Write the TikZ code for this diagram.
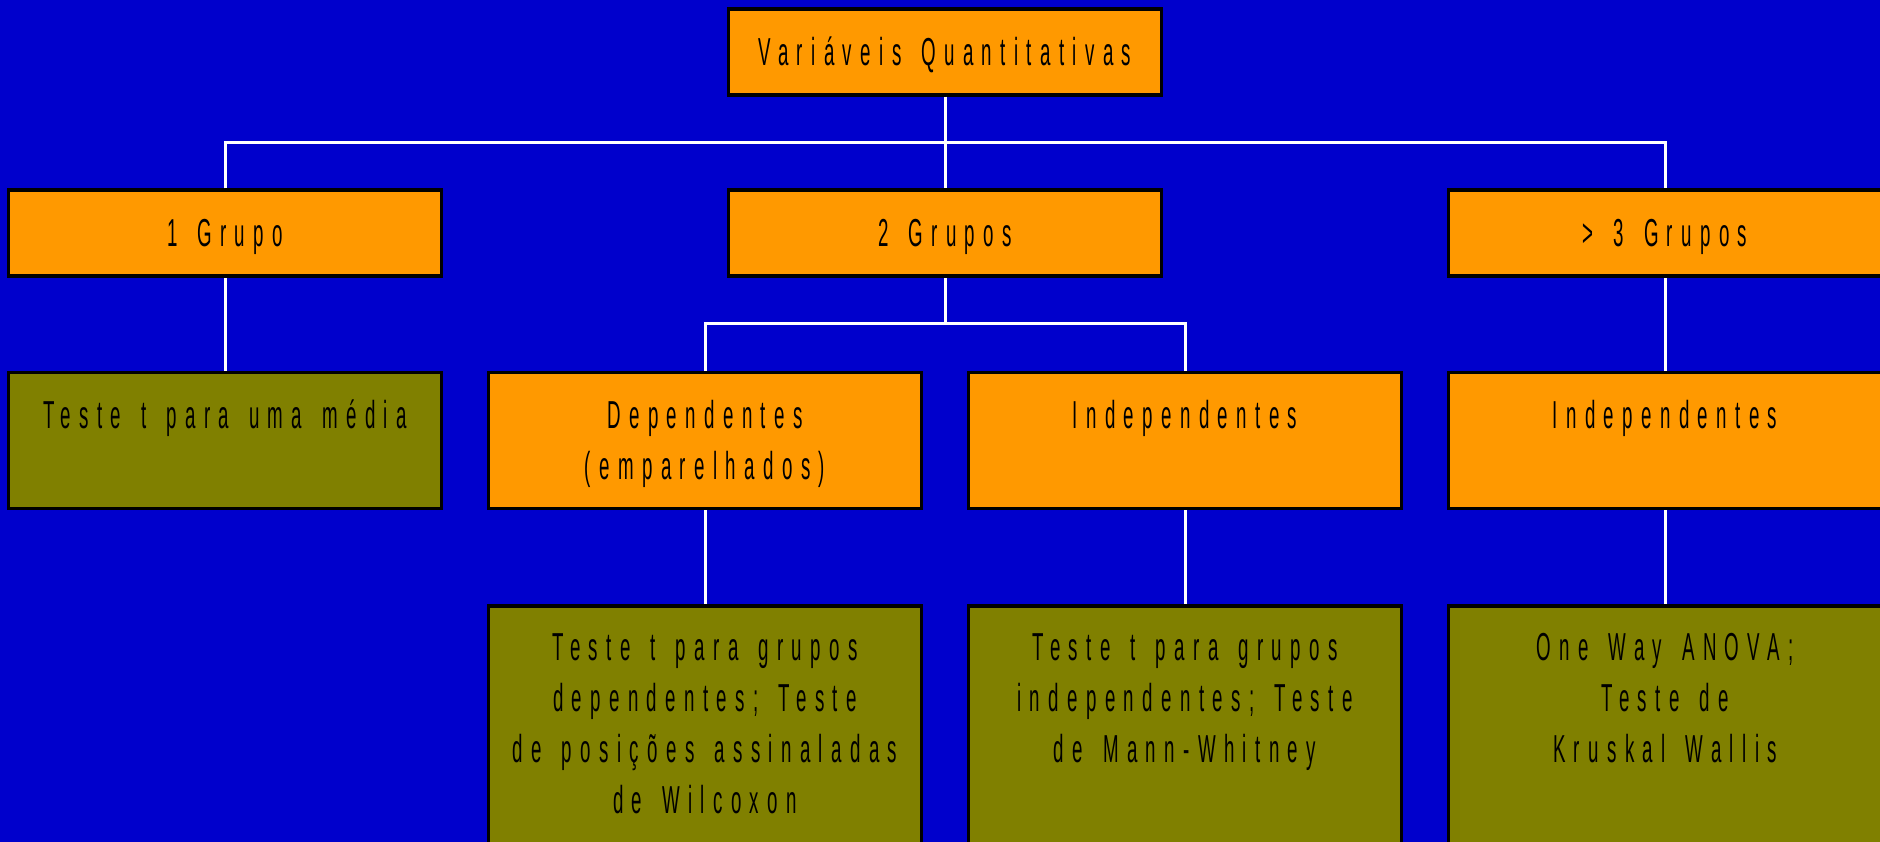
\documentclass[tikz,border=0pt]{standalone}
\usepackage{fontspec}
\setmainfont{Liberation Sans}[FakeStretch=0.48,LetterSpace=21.5]
\definecolor{bgblue}{RGB}{0,0,204}
\definecolor{boxorange}{RGB}{255,153,0}
\definecolor{boxolive}{RGB}{128,128,0}
\newcommand\wg{\hspace{7pt}}
\tikzset{
  box/.style={draw=black, line width=3.6pt, minimum width=433pt, inner sep=0pt},
  obox/.style={box, fill=boxorange, minimum height=86pt},
  otall/.style={box, fill=boxorange, minimum height=136pt},
  gtall/.style={box, fill=boxolive, minimum height=136pt},
  gbottom/.style={box, fill=boxolive, minimum height=300pt},
  lbl/.style={anchor=base, inner sep=0pt, text width=436pt, align=center,
    font=\fontsize{39}{51}\selectfont},
  conn/.style={draw=white, line width=3pt},
}
\begin{document}
\begin{tikzpicture}[x=1pt,y=-1pt]
\useasboundingbox (0,0) rectangle (1880,842);
\clip (0,0) rectangle (1880,842);
\fill[bgblue] (0,0) rectangle (1880,842);

% boxes
\node[obox] (T) at (945,51.8) {};
\node[obox] (G1) at (225,233.3) {};
\node[obox] (G2) at (945,233.3) {};
\node[obox] (G3) at (1665,233.3) {};
\node[gtall] (R1) at (225,440.5) {};
\node[otall] (D) at (705,440.5) {};
\node[otall] (I) at (1185,440.5) {};
\node[otall] (I3) at (1665,440.5) {};
\node[gbottom] (B2) at (705,755.7) {};
\node[gbottom] (B3) at (1185,755.7) {};
\node[gbottom] (B4) at (1665,755.7) {};

% connectors
\coordinate (split) at (945,324);
\draw[conn] (T.south) -- (G2.north);
\draw[conn] (G1.north) -- ++(0,-46.3) -| (G3.north);
\draw[conn] (G2.south) -- (split);
\draw[conn] (D.north) -- ++(0,-47) -| (I.north);
\draw[conn] (G1.south) -- (R1.north);
\draw[conn] (G3.south) -- (I3.north);
\draw[conn] (D.south) -- (B2.north);
\draw[conn] (I.south) -- (B3.north);
\draw[conn] (I3.south) -- (B4.north);

% texts
\node[lbl] (tT) at ([yshift=-13.3pt]T.center) {Variáveis\wg{} Quantitativas};
\node[lbl] (tG1) at ([yshift=-13.3pt]G1.center) {1\wg{} Grupo};
\node[lbl] (tG2) at ([yshift=-13.3pt]G2.center) {2\wg{} Grupos};
\node[lbl] (tG3) at ([yshift=-13.3pt]G3.center) {>\wg{} 3\wg{} Grupos};
\node[lbl] (tR1) at ([yshift=-58pt]R1.north) {Teste\wg{} t\wg{} para\wg{} uma\wg{} média};
\node[lbl] (tD) at ([yshift=-58pt]D.north) {Dependentes\\(emparelhados)};
\node[lbl] (tI) at ([yshift=-58pt]I.north) {Independentes};
\node[lbl] (tI3) at ([yshift=-58pt]I3.north) {Independentes};
\node[lbl] (tB2) at ([yshift=-57pt]B2.north) {Teste\wg{} t\wg{} para\wg{} grupos\\dependentes;\wg{} Teste\\de\wg{} posições\wg{} assinaladas\\de\wg{} Wilcoxon};
\node[lbl] (tB3) at ([yshift=-57pt]B3.north) {Teste\wg{} t\wg{} para\wg{} grupos\\independentes;\wg{} Teste\\de\wg{} Mann-Whitney};
\node[lbl] (tB4) at ([yshift=-57pt]B4.north) {One\wg{} Way\wg{} ANOVA;\\Teste\wg{} de\\Kruskal\wg{} Wallis};
\end{tikzpicture}
\end{document}
